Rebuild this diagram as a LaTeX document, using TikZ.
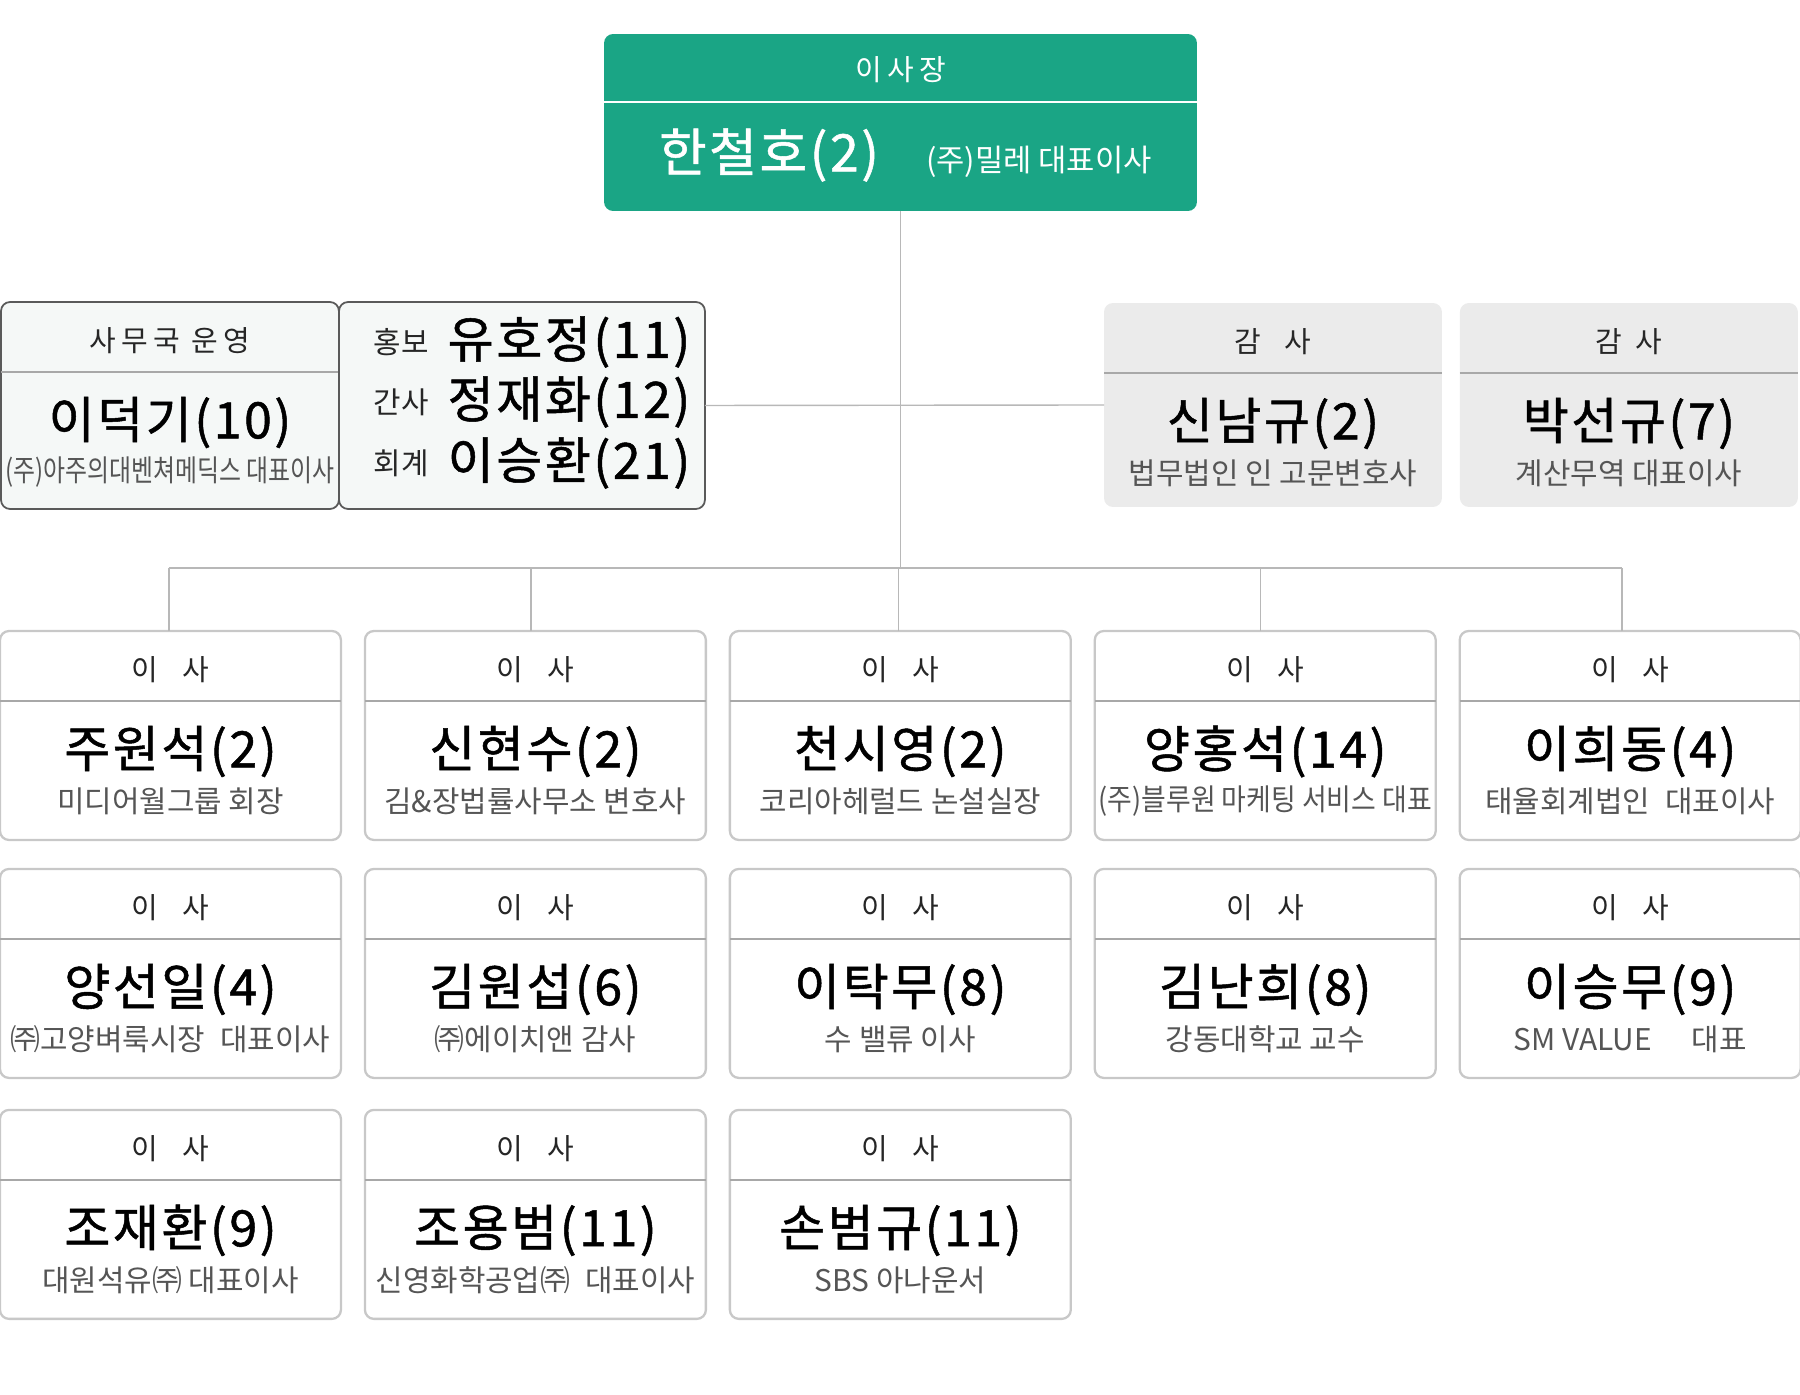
\documentclass[tikz,border=0pt]{standalone}
\usepackage{fontspec}
\usepackage{graphicx}
\setmainfont{Noto Sans CJK KR}
\newfontfamily\headfont[LetterSpace=18]{Noto Sans CJK KR}
\newfontfamily\namefont[LetterSpace=5, FakeBold=1]{Noto Sans CJK KR}
\usetikzlibrary{positioning}

\definecolor{chairgreen}{HTML}{1AA585}
\definecolor{linkgray}{HTML}{B8B8B8}
\definecolor{frame}{HTML}{C8C8C8}
\definecolor{subgray}{HTML}{555555}
\definecolor{auditfill}{HTML}{EBEBEB}
\definecolor{officefill}{HTML}{F5F8F7}
\definecolor{officeframe}{HTML}{5A5A5A}
\definecolor{rulegray}{HTML}{A8A8A8}

% one box of the chart: name, options, role, person, note
\newcommand{\orgbox}[5]{%
  \node[#2] (#1) {};
  \node[rolehead] (#1h) at ([yshift=-0.78cm]#1.north) {#3};
  \draw[divider] ([yshift=-1.4cm]#1.north west) -- ([yshift=-1.4cm]#1.north east);
  \node[person] (#1n) at ([yshift=-2.41cm]#1.north) {#4};
  \node[subline] (#1s) at ([yshift=-3.41cm]#1.north) {#5};
}

\tikzset{
  board/.style={rectangle, rounded corners=0.18cm, draw=frame, line width=1.3pt, fill=white,
    minimum width=6.82cm, minimum height=4.18cm, inner sep=0pt, outer sep=0pt},
  audit/.style={board, draw=none, fill=auditfill, minimum width=6.76cm, minimum height=4.08cm},
  office/.style={board, draw=officeframe, line width=1pt, fill=officefill, minimum width=6.76cm, minimum height=4.14cm},
  chair/.style={board, draw=none, fill=chairgreen, minimum width=11.86cm, minimum height=3.54cm},
  rolehead/.style={font=\headfont\fontsize{16.5}{19}\selectfont, text=black!85, inner sep=1pt},
  person/.style={font=\namefont\fontsize{28.5}{32}\selectfont, text=black, inner sep=1pt},
  subline/.style={font=\fontsize{17}{20}\selectfont, text=subgray, inner sep=1pt},
  divider/.style={draw=rulegray, line width=0.8pt},
  connector/.style={draw=linkgray, line width=0.8pt},
}

\begin{document}
\begin{tikzpicture}[x=0.02cm, y=-0.02cm]
\fill[white] (0,0) rectangle (1800,1394);
\useasboundingbox (0,0) rectangle (1800,1394);

% Chair
\node[chair] (chair) at (900.5,122.5) {};
\node[rolehead, text=white] (chairh) at ([yshift=-0.72cm]chair.north) {이사장};
\draw[white, line width=0.8pt] ([yshift=-1.36cm]chair.north west) -- ([yshift=-1.36cm]chair.north east);
\node[person, text=white, font=\namefont\fontsize{29.5}{33}\selectfont, anchor=east] (chairn) at (881,155) {한철호(2)};
\node[subline, text=white, font=\fontsize{17.5}{20}\selectfont, base right=0.86cm of chairn] (chairs) {(주)밀레 대표이사};

% Office and audit
\orgbox{office}{office, anchor=north west, at={(1,302)}}{사무국 운영}{이덕기(10)}{\scalebox{0.8}[1]{(주)아주의대벤쳐메딕스 대표이사}}
\node[office, anchor=north west, at={(339,302)}, minimum width=7.32cm] (pr) {};
\node[subline, text=black!85] (pr1l) at (401,342) {홍보};
\node[person, right=0.3cm of pr1l] (pr1n) {유호정(11)};
\node[subline, text=black!85] (pr2l) at (401,402) {간사};
\node[person, right=0.3cm of pr2l] (pr2n) {정재화(12)};
\node[subline, text=black!85] (pr3l) at (401,463) {회계};
\node[person, right=0.3cm of pr3l] (pr3n) {이승환(21)};
\orgbox{auda}{audit, anchor=north west, at={(1104,303)}}{감\hspace{0.48cm}사}{신남규(2)}{법무법인 인 고문변호사}
\orgbox{audb}{audit, right=0.36cm of auda}{감\hspace{0.25cm}사}{박선규(7)}{계산무역 대표이사}

% Directors
\orgbox{b1}{board, anchor=north west, at={(0,631)}}{이\hspace{0.48cm}사}{주원석(2)}{미디어월그룹 회장}
\orgbox{b2}{board, right=0.48cm of b1}{이\hspace{0.48cm}사}{신현수(2)}{김\&장법률사무소 변호사}
\orgbox{b3}{board, right=0.48cm of b2}{이\hspace{0.48cm}사}{천시영(2)}{코리아헤럴드 논설실장}
\orgbox{b4}{board, right=0.48cm of b3}{이\hspace{0.48cm}사}{양홍석(14)}{\scalebox{0.9}[1]{(주)블루원 마케팅 서비스 대표}}
\orgbox{b5}{board, right=0.48cm of b4}{이\hspace{0.48cm}사}{이희동(4)}{태율회계법인\hspace{0.3cm}대표이사}
\orgbox{b6}{board, below=0.58cm of b1}{이\hspace{0.48cm}사}{양선일(4)}{㈜고양벼룩시장\hspace{0.3cm}대표이사}
\orgbox{b7}{board, below=0.58cm of b2}{이\hspace{0.48cm}사}{김원섭(6)}{㈜에이치앤 감사}
\orgbox{b8}{board, below=0.58cm of b3}{이\hspace{0.48cm}사}{이탁무(8)}{수 밸류 이사}
\orgbox{b9}{board, below=0.58cm of b4}{이\hspace{0.48cm}사}{김난희(8)}{강동대학교 교수}
\orgbox{b10}{board, below=0.58cm of b5}{이\hspace{0.48cm}사}{이승무(9)}{SM VALUE\hspace{0.8cm}대표}
\orgbox{b11}{board, below=0.64cm of b6}{이\hspace{0.48cm}사}{조재환(9)}{대원석유㈜ 대표이사}
\orgbox{b12}{board, below=0.64cm of b7}{이\hspace{0.48cm}사}{조용범(11)}{신영화학공업㈜\hspace{0.3cm}대표이사}
\orgbox{b13}{board, below=0.64cm of b8}{이\hspace{0.48cm}사}{손범규(11)}{SBS 아나운서}

% Connectors
\coordinate[above=1.26cm of b1.north] (busl);
\coordinate[above=1.26cm of b5.north] (busr);
\draw[connector] (chair.south) -- (chair.south |- busl);
\draw[connector] ([xshift=-0.03cm]busl) -- ([xshift=-0.16cm]busr);
\foreach \b/\dx in {b1/-0.03, b2/-0.09, b3/-0.04, b4/-0.1, b5/-0.16}
  \draw[connector] ([xshift=\dx cm]\b.north) -- ([xshift=\dx cm]\b.north |- busl);
\draw[connector] (pr.east) -- (auda.west);

\end{tikzpicture}
\end{document}
